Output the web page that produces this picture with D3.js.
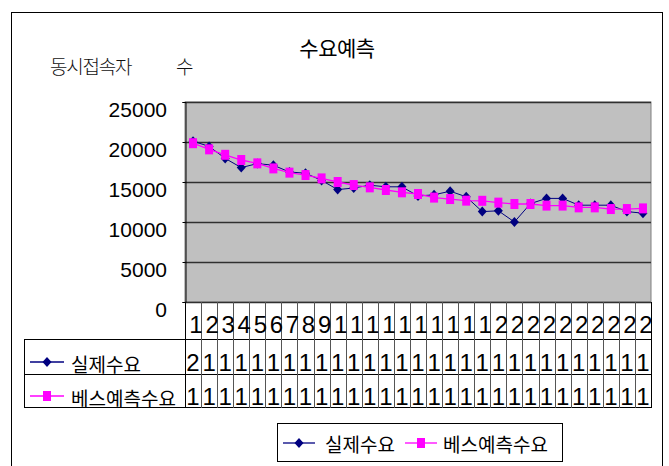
<!DOCTYPE html>
<html>
<head>
<meta charset="utf-8">
<script src="https://cdn.jsdelivr.net/npm/d3@7/dist/d3.min.js"></script>
<style>
  html, body { margin: 0; padding: 0; background: #fff; }
  svg { display: block; }
  .kr { font-family: "Noto Sans CJK KR", "Noto Sans", sans-serif; }
  .num { font-family: "Liberation Sans", Arial, sans-serif; }
</style>
</head>
<body>
<script>
// Weekly demand: actual vs. Bass-model forecast (concurrent users)
const categories = d3.range(1, 30).map(String);
const actualDemand = [20100, 19450, 17950, 16800, 17300, 17100, 16250, 16100, 15200, 14050,
                      14250, 14600, 14400, 14400, 13250, 13400, 13850, 13150, 11300, 11400,
                      10000, 12300, 12950, 12950, 12100, 12100, 12100, 11300, 11100];
const bassForecast = [19850, 19080, 18400, 17750, 17330, 16700, 16170, 15870, 15450, 15000,
                      14620, 14330, 14000, 13710, 13500, 13050, 12870, 12670, 12650, 12420,
                      12250, 12250, 12050, 12050, 11830, 11830, 11620, 11620, 11700];
const yTicks = [0, 5000, 10000, 15000, 20000, 25000];
const seriesNames = ["실제수요", "베스예측수요"];
const chartTitle = "수요예측";
const yTitle = ["동시접속자", "수"];

const W = 669, H = 466;
const plot = { left: 185, right: 651, top: 102, bottom: 302 };
const rows = { cat: [302, 339], s1: [339, 374], s2: [374, 407] };
const tableLeft = 24;
const colors = ["#000080", "#FF00FF"];

const svg = d3.select("body").append("svg").attr("width", W).attr("height", H);

// outer chart frame
svg.append("rect").attr("x", 11.5).attr("y", 12.5).attr("width", 651).attr("height", 470)
  .attr("fill", "#fff").attr("stroke", "#000").attr("stroke-width", 1);

const x = d3.scaleBand().domain(categories).range([plot.left, plot.right]);
const y = d3.scaleLinear().domain([0, 25000]).range([plot.bottom, plot.top]);

// plot area
svg.append("rect").attr("x", plot.left).attr("y", plot.top)
  .attr("width", plot.right - plot.left).attr("height", plot.bottom - plot.top)
  .attr("fill", "#C0C0C0").attr("stroke", "#808080");

// gridlines
svg.append("g").selectAll("line").data(yTicks).join("line")
  .attr("x1", plot.left).attr("x2", plot.right)
  .attr("y1", d => Math.round(y(d)) + 0.5).attr("y2", d => Math.round(y(d)) + 0.5)
  .attr("stroke", "#303030").attr("stroke-width", 1.4);

// value axis
const yAxis = d3.axisLeft(y).tickValues(yTicks).tickSize(3).tickFormat(d3.format("d"));
const yg = svg.append("g").attr("transform", `translate(${plot.left + 0.5},0)`).call(yAxis);
yg.select(".domain").attr("stroke", "#000");
yg.selectAll(".tick line").attr("stroke", "#000");
yg.selectAll(".tick text")
  .attr("class", "num").attr("font-size", 21).attr("fill", "#000")
  .attr("x", 167 - plot.left - 0.5).attr("dy", null).attr("y", 14.5)
  .attr("text-anchor", "end");

// titles
svg.append("text").attr("class", "kr").attr("x", 337).attr("y", 56)
  .attr("text-anchor", "middle").attr("font-size", 21).attr("letter-spacing", -0.5)
  .text(chartTitle);
const yt = svg.append("text").attr("class", "kr").attr("y", 74).attr("font-size", 19)
  .attr("font-weight", 300).attr("fill", "#111");
yt.append("tspan").attr("x", 50).attr("letter-spacing", -1.2).text(yTitle[0]);
yt.append("tspan").attr("x", 176).text(yTitle[1]);

// data table grid
const tg = svg.append("g").attr("stroke", "#000").attr("stroke-width", 1);
[rows.s1[0], rows.s2[0], rows.s2[1]].forEach(v => {
  tg.append("line").attr("x1", tableLeft).attr("x2", plot.right)
    .attr("y1", v + 0.5).attr("y2", v + 0.5);
});
tg.append("line").attr("x1", tableLeft + 0.5).attr("x2", tableLeft + 0.5)
  .attr("y1", rows.s1[0]).attr("y2", rows.s2[1] + 1);
const colEdges = categories.map(c => x(c)).concat([plot.right]);
tg.selectAll("line.col").data(colEdges).join("line").attr("class", "col")
  .attr("x1", d => Math.round(d) + 0.5).attr("x2", d => Math.round(d) + 0.5)
  .attr("y1", plot.bottom).attr("y2", rows.s2[1] + 1)
  .attr("stroke", (d, i) => (i === 0 || i === colEdges.length - 1) ? "#000" : "#555");

// wrapped cell text: characters stack vertically, each row clips its overflow
const defs = svg.append("defs");
function rowClip(id, r) {
  defs.append("clipPath").attr("id", id).append("rect")
    .attr("x", plot.left).attr("y", r[0]).attr("width", plot.right - plot.left).attr("height", r[1] - r[0]);
}
rowClip("clipCat", rows.cat); rowClip("clipS1", rows.s1); rowClip("clipS2", rows.s2);

function cellTexts(clipId, values, baseline, dx) {
  const g = svg.append("g").attr("clip-path", `url(#${clipId})`);
  g.selectAll("text").data(values).join("text")
    .attr("class", "num").attr("font-size", 24).attr("text-anchor", "middle")
    .attr("y", baseline)
    .each(function (d, i) {
      const cx = x(categories[i]) + x.bandwidth() / 2 + dx;
      String(d).split("").forEach((ch, k) => {
        d3.select(this).append("tspan").attr("x", cx).attr("dy", k === 0 ? 0 : "1.15em").text(ch);
      });
    });
}
cellTexts("clipCat", categories, 333, 3);
cellTexts("clipS1", actualDemand, 371, 0);
cellTexts("clipS2", bassForecast, 405, 0);

// marker shapes
const diamond = "M0,-5L4.5,0L0,5L-4.5,0Z";
const square = "M-4,-5H4V5H-4Z";
const markers = [diamond, square];

// series lines and markers
const line = d3.line().x((d, i) => x(categories[i]) + x.bandwidth() / 2).y(d => y(d));
[actualDemand, bassForecast].forEach((vals, s) => {
  svg.append("path").datum(vals).attr("d", line)
    .attr("fill", "none").attr("stroke", colors[s]).attr("stroke-width", s === 0 ? 1 : 1.3);
  svg.append("g").selectAll("path").data(vals).join("path")
    .attr("transform", (d, i) => `translate(${x(categories[i]) + x.bandwidth() / 2},${y(d)})`)
    .attr("d", markers[s]).attr("fill", colors[s]);
});

// legend keys inside the table row headers
function legendKey(g, s, x0, x1, cy) {
  g.append("line").attr("x1", x0).attr("x2", x1).attr("y1", cy).attr("y2", cy)
    .attr("stroke", colors[s]).attr("stroke-width", 1.3);
  g.append("path").attr("transform", `translate(${(x0 + x1) / 2},${cy})`)
    .attr("d", markers[s]).attr("fill", colors[s]);
}
const rh = svg.append("g");
legendKey(rh, 0, 30, 64, 362);
legendKey(rh, 1, 30, 64, 396);
rh.append("text").attr("class", "kr").attr("x", 71).attr("y", 371.5).attr("font-size", 19).text(seriesNames[0]);
rh.append("text").attr("class", "kr").attr("x", 71).attr("y", 405.5).attr("font-size", 19).text(seriesNames[1]);

// legend box
const lg = svg.append("g");
lg.append("rect").attr("x", 277.5).attr("y", 423.5).attr("width", 285).attr("height", 38)
  .attr("fill", "#fff").attr("stroke", "#000");
legendKey(lg, 0, 283, 315, 443);
lg.append("text").attr("class", "kr").attr("x", 325).attr("y", 452).attr("font-size", 19).text(seriesNames[0]);
legendKey(lg, 1, 405, 437, 443);
lg.append("text").attr("class", "kr").attr("x", 443).attr("y", 452).attr("font-size", 19).text(seriesNames[1]);
</script>
</body>
</html>
